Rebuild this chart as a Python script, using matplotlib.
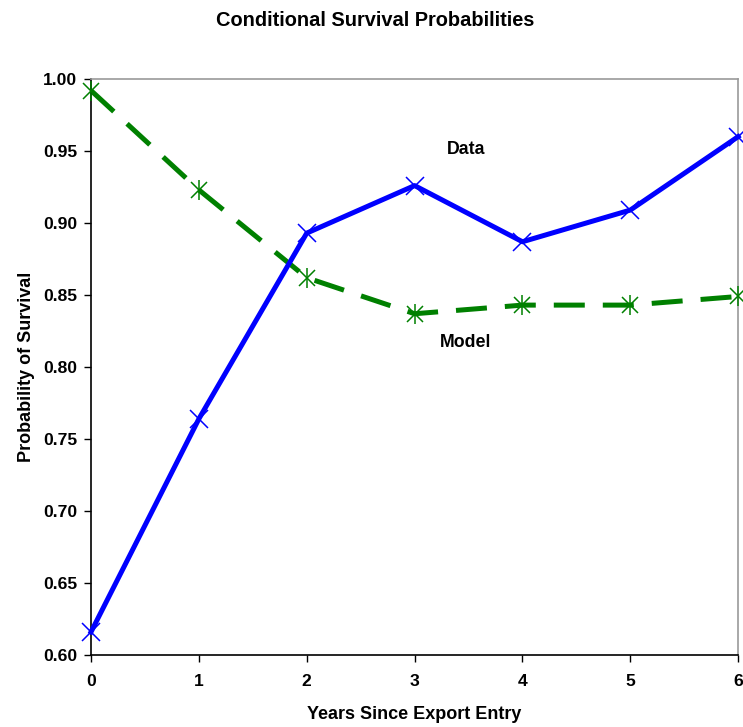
import matplotlib
matplotlib.use("Agg")
import matplotlib.pyplot as plt

years = [0, 1, 2, 3, 4, 5, 6]
data_surv = [0.616, 0.764, 0.893, 0.926, 0.887, 0.909, 0.960]
model_surv = [0.992, 0.923, 0.862, 0.837, 0.843, 0.843, 0.849]

plt.rcParams['font.family'] = ['Liberation Sans', 'DejaVu Sans']
plt.rcParams['font.weight'] = 'bold'

fig = plt.figure(figsize=(7.43, 7.27), dpi=100)
ax = fig.add_axes([0.1225, 0.099, 0.871, 0.7923])

# model line (dashed) with asterisk markers
ax.plot(years, model_surv, color='#008000', lw=3.6, dashes=(6.2, 3.6), dash_capstyle='butt',
        clip_on=False, zorder=2)
ax.plot(years, model_surv, ls='none', marker='x', ms=11, mew=1.1, color='#008000', clip_on=False, zorder=3)
ax.plot(years, model_surv, ls='none', marker='|', ms=15, mew=1.1, color='#008000', clip_on=False, zorder=3)

# data line
ax.plot(years, data_surv, color='#0000ff', lw=3.6, marker='x', ms=12.5, mew=1.1, clip_on=False, zorder=4)

ax.text(3.48, 0.951, 'Data', fontsize=12.8, fontweight='bold', ha='center', va='center')
ax.text(3.47, 0.817, 'Model', fontsize=12.8, fontweight='bold', ha='center', va='center')

ax.set_xlim(0, 6)
ax.set_ylim(0.60, 1.00)
ax.set_xticks(years)
ax.set_yticks([0.60, 0.65, 0.70, 0.75, 0.80, 0.85, 0.90, 0.95, 1.00])
ax.set_yticklabels([f'{v:.2f}' for v in ax.get_yticks()])
ax.tick_params(axis='both', direction='out', length=5, width=1, labelsize=12.6)
ax.tick_params(axis='x', pad=9)
ax.tick_params(axis='y', pad=5)
for lab in ax.get_xticklabels() + ax.get_yticklabels():
    lab.set_fontweight('bold')

for side in ['top', 'right']:
    ax.spines[side].set_color('#999999')
    ax.spines[side].set_linewidth(1.2)
for side in ['left', 'bottom']:
    ax.spines[side].set_color('black')
    ax.spines[side].set_linewidth(1.2)

ax.set_xlabel('Years Since Export Entry', fontsize=13, fontweight='bold', labelpad=12)
ax.set_ylabel('Probability of Survival', fontsize=13, fontweight='bold', labelpad=6)
fig.suptitle('Conditional Survival Probabilities', fontsize=14.4, fontweight='bold', x=0.505, y=0.985)

fig.savefig('out.png', dpi=100)
